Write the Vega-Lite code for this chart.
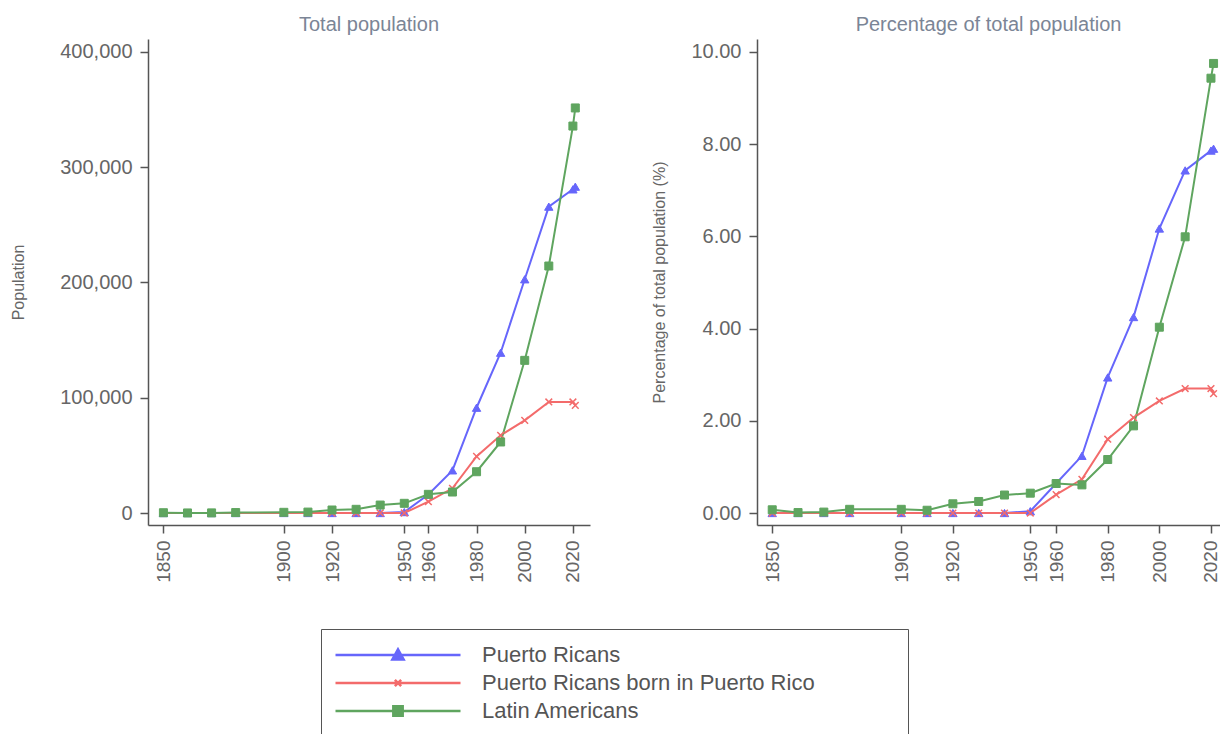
{
  "$schema": "https://vega.github.io/schema/vega-lite/v6.json",
  "padding": {"left": 10, "top": 15, "right": 2, "bottom": 2},
  "config": {
    "font": "Liberation Sans",
    "view": {"stroke": null},
    "axis": {"domainColor": "#555", "domainWidth": 1.5, "tickColor": "#555", "tickWidth": 1.5, "tickSize": 8, "labelPadding": 6, "labelFontSize": 20, "labelColor": "#666", "grid": false, "titleFontSize": 16, "titleColor": "#666", "titleFontWeight": "normal"},
    "title": {"fontSize": 20, "color": "#7b8596", "fontWeight": "normal", "anchor": "middle"}
  },
  "datasets": {
    "pop": [
      {"year": 1850, "group": "Puerto Ricans", "population": 0, "percent": 0},
      {"year": 1860, "group": "Puerto Ricans", "population": 0, "percent": 0},
      {"year": 1870, "group": "Puerto Ricans", "population": 0, "percent": 0},
      {"year": 1880, "group": "Puerto Ricans", "population": 0, "percent": 0},
      {"year": 1900, "group": "Puerto Ricans", "population": 0, "percent": 0},
      {"year": 1910, "group": "Puerto Ricans", "population": 0, "percent": 0},
      {"year": 1920, "group": "Puerto Ricans", "population": 0, "percent": 0},
      {"year": 1930, "group": "Puerto Ricans", "population": 0, "percent": 0},
      {"year": 1940, "group": "Puerto Ricans", "population": 0, "percent": 0},
      {"year": 1950, "group": "Puerto Ricans", "population": 800, "percent": 0.04},
      {"year": 1960, "group": "Puerto Ricans", "population": 16000, "percent": 0.64},
      {"year": 1970, "group": "Puerto Ricans", "population": 37000, "percent": 1.24},
      {"year": 1980, "group": "Puerto Ricans", "population": 91300, "percent": 2.94},
      {"year": 1990, "group": "Puerto Ricans", "population": 139000, "percent": 4.25},
      {"year": 2000, "group": "Puerto Ricans", "population": 202700, "percent": 6.17},
      {"year": 2010, "group": "Puerto Ricans", "population": 265700, "percent": 7.43},
      {"year": 2020, "group": "Puerto Ricans", "population": 280700, "percent": 7.86},
      {"year": 2021, "group": "Puerto Ricans", "population": 283000, "percent": 7.9},
      {"year": 1850, "group": "Puerto Ricans born in Puerto Rico", "population": 0, "percent": 0},
      {"year": 1860, "group": "Puerto Ricans born in Puerto Rico", "population": 0, "percent": 0},
      {"year": 1870, "group": "Puerto Ricans born in Puerto Rico", "population": 0, "percent": 0},
      {"year": 1880, "group": "Puerto Ricans born in Puerto Rico", "population": 0, "percent": 0},
      {"year": 1900, "group": "Puerto Ricans born in Puerto Rico", "population": 0, "percent": 0},
      {"year": 1910, "group": "Puerto Ricans born in Puerto Rico", "population": 0, "percent": 0},
      {"year": 1920, "group": "Puerto Ricans born in Puerto Rico", "population": 0, "percent": 0},
      {"year": 1930, "group": "Puerto Ricans born in Puerto Rico", "population": 0, "percent": 0},
      {"year": 1940, "group": "Puerto Ricans born in Puerto Rico", "population": 0, "percent": 0},
      {"year": 1950, "group": "Puerto Ricans born in Puerto Rico", "population": 0, "percent": 0},
      {"year": 1960, "group": "Puerto Ricans born in Puerto Rico", "population": 9800, "percent": 0.4},
      {"year": 1970, "group": "Puerto Ricans born in Puerto Rico", "population": 21400, "percent": 0.73},
      {"year": 1980, "group": "Puerto Ricans born in Puerto Rico", "population": 49100, "percent": 1.6},
      {"year": 1990, "group": "Puerto Ricans born in Puerto Rico", "population": 67400, "percent": 2.07},
      {"year": 2000, "group": "Puerto Ricans born in Puerto Rico", "population": 80400, "percent": 2.43},
      {"year": 2010, "group": "Puerto Ricans born in Puerto Rico", "population": 96300, "percent": 2.7},
      {"year": 2020, "group": "Puerto Ricans born in Puerto Rico", "population": 96300, "percent": 2.7},
      {"year": 2021, "group": "Puerto Ricans born in Puerto Rico", "population": 93400, "percent": 2.59},
      {"year": 1850, "group": "Latin Americans", "population": 250, "percent": 0.07},
      {"year": 1860, "group": "Latin Americans", "population": 50, "percent": 0.01},
      {"year": 1870, "group": "Latin Americans", "population": 100, "percent": 0.02},
      {"year": 1880, "group": "Latin Americans", "population": 400, "percent": 0.08},
      {"year": 1900, "group": "Latin Americans", "population": 600, "percent": 0.08},
      {"year": 1910, "group": "Latin Americans", "population": 800, "percent": 0.06},
      {"year": 1920, "group": "Latin Americans", "population": 2600, "percent": 0.2},
      {"year": 1930, "group": "Latin Americans", "population": 3200, "percent": 0.25},
      {"year": 1940, "group": "Latin Americans", "population": 6900, "percent": 0.39},
      {"year": 1950, "group": "Latin Americans", "population": 8400, "percent": 0.43},
      {"year": 1960, "group": "Latin Americans", "population": 16200, "percent": 0.64},
      {"year": 1970, "group": "Latin Americans", "population": 18200, "percent": 0.61},
      {"year": 1980, "group": "Latin Americans", "population": 35800, "percent": 1.16},
      {"year": 1990, "group": "Latin Americans", "population": 61600, "percent": 1.89},
      {"year": 2000, "group": "Latin Americans", "population": 132400, "percent": 4.03},
      {"year": 2010, "group": "Latin Americans", "population": 214200, "percent": 5.99},
      {"year": 2020, "group": "Latin Americans", "population": 335600, "percent": 9.43},
      {"year": 2021, "group": "Latin Americans", "population": 351300, "percent": 9.75}
    ]
  },
  "data": {"name": "pop"},
  "spacing": 167,
  "bounds": "flush",
  "resolve": {"scale": {"color": "shared"}},
  "hconcat": [
    {
      "width": 442,
      "height": 486,
      "title": {"text": "Total population", "offset": 4},
      "encoding": {
        "x": {"field": "year", "type": "quantitative", "scale": {"domain": [1843.6, 2027.1], "nice": false, "zero": false},
              "axis": {"values": [1850, 1900, 1920, 1950, 1960, 1980, 2000, 2020], "format": "d", "labelAngle": 270, "labelFontSize": 19, "labelPadding": 7, "title": null}},
        "y": {"field": "population", "type": "quantitative", "scale": {"domain": [-10400, 411100], "nice": false, "zero": false},
              "axis": {"values": [0, 100000, 200000, 300000, 400000], "format": ",.0f", "labelPadding": 8, "title": "Population", "titleX": -130, "titleY": 243, "titleAngle": 270, "titleBaseline": "middle", "titleAlign": "center"}}
      },
      "layer": [
        {"mark": {"type": "line", "strokeWidth": 2},
         "encoding": {
           "color": {"field": "group", "type": "nominal", "sort": null,
                  "scale": {"domain": ["Puerto Ricans", "Puerto Ricans born in Puerto Rico", "Latin Americans"], "range": ["#6666fb", "#f36b6b", "#5fa55f"]},
                  "legend": {"orient": "none", "legendX": 173, "legendY": 590, "title": null, "direction": "vertical",
                             "symbolSize": 15625, "clipHeight": 26, "rowPadding": 2, "labelOffset": 20, "labelFontSize": 22, "labelColor": "#555", "padding": 13, "strokeColor": "#555", "labelLimit": 1000,
                             "labelExpr": "datum.label + '\u00a0\u00a0\u00a0\u00a0\u00a0\u00a0\u00a0\u00a0\u00a0\u00a0\u00a0\u00a0\u00a0\u200b'",
                             "encode": {"symbols": {"update": {
                               "shape": {"signal": "datum.value === 'Puerto Ricans' ? 'M-1,0H1M0,-0.09L0.09,0.07L-0.09,0.07Z' : datum.value === 'Latin Americans' ? 'M-1,0H1M-0.075,-0.075H0.075V0.075H-0.075Z' : 'M-1,0H1M-0.05,-0.05L0.05,0.05M-0.05,0.05L0.05,-0.05'"},
                               "fill": {"signal": "datum.value === 'Puerto Ricans' ? '#6666fb' : datum.value === 'Latin Americans' ? '#5fa55f' : '#f36b6b'"},
                               "stroke": {"signal": "datum.value === 'Puerto Ricans' ? '#6666fb' : datum.value === 'Latin Americans' ? '#5fa55f' : '#f36b6b'"},
                               "strokeWidth": {"value": 2.5},
                               "opacity": {"value": 1},
                               "fillOpacity": {"value": 1},
                               "strokeOpacity": {"value": 1}
                             }}}}}
         }},
        {"transform": [{"filter": "datum.group === 'Puerto Ricans'"}],
         "mark": {"type": "point", "shape": "triangle-up", "filled": true, "opacity": 1, "fill": "#6666fb", "stroke": "#6666fb", "strokeWidth": 1, "size": 70}},
        {"transform": [{"filter": "datum.group === 'Puerto Ricans born in Puerto Rico'"}],
         "mark": {"type": "point", "shape": "M-1,-1L1,1M-1,1L1,-1", "filled": false, "opacity": 1, "stroke": "#f36b6b", "strokeWidth": 1.5, "size": 45}},
        {"transform": [{"filter": "datum.group === 'Latin Americans'"}],
         "mark": {"type": "point", "shape": "square", "filled": true, "opacity": 1, "fill": "#5fa55f", "stroke": "#5fa55f", "strokeWidth": 1, "size": 64}}
      ]
    },
    {
      "width": 463,
      "height": 486,
      "title": {"text": "Percentage of total population", "offset": 4},
      "encoding": {
        "x": {"field": "year", "type": "quantitative", "scale": {"domain": [1844.1, 2023.5], "nice": false, "zero": false},
              "axis": {"values": [1850, 1900, 1920, 1950, 1960, 1980, 2000, 2020], "format": "d", "labelAngle": 270, "labelFontSize": 19, "labelPadding": 7, "title": null}},
        "y": {"field": "percent", "type": "quantitative", "scale": {"domain": [-0.26, 10.28], "nice": false, "zero": false},
              "axis": {"values": [0, 2, 4, 6, 8, 10], "format": ".2f", "labelPadding": 8, "title": "Percentage of total population (%)", "titleX": -98, "titleY": 243, "titleAngle": 270, "titleBaseline": "middle", "titleAlign": "center"}}
      },
      "layer": [
        {"mark": {"type": "line", "strokeWidth": 2},
         "encoding": {
           "color": {"field": "group", "type": "nominal", "sort": null,
                  "scale": {"domain": ["Puerto Ricans", "Puerto Ricans born in Puerto Rico", "Latin Americans"], "range": ["#6666fb", "#f36b6b", "#5fa55f"]}}
         }},
        {"transform": [{"filter": "datum.group === 'Puerto Ricans'"}],
         "mark": {"type": "point", "shape": "triangle-up", "filled": true, "opacity": 1, "fill": "#6666fb", "stroke": "#6666fb", "strokeWidth": 1, "size": 70}},
        {"transform": [{"filter": "datum.group === 'Puerto Ricans born in Puerto Rico'"}],
         "mark": {"type": "point", "shape": "M-1,-1L1,1M-1,1L1,-1", "filled": false, "opacity": 1, "stroke": "#f36b6b", "strokeWidth": 1.5, "size": 45}},
        {"transform": [{"filter": "datum.group === 'Latin Americans'"}],
         "mark": {"type": "point", "shape": "square", "filled": true, "opacity": 1, "fill": "#5fa55f", "stroke": "#5fa55f", "strokeWidth": 1, "size": 64}}
      ]
    }
  ]
}
